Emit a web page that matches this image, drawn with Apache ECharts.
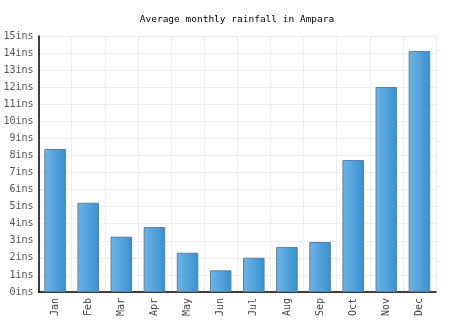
<!DOCTYPE html>
<html><head><meta charset="utf-8">
<script src="https://cdn.jsdelivr.net/npm/echarts@6/dist/echarts.min.js"></script>
<style>html,body{margin:0;padding:0;background:#fff}#c{width:474px;height:331px}</style>
</head><body><div id="c"></div>
<script>
const categories = ["Jan","Feb","Mar","Apr","May","Jun","Jul","Aug","Sep","Oct","Nov","Dec"];
const rainfall = [8.38, 5.23, 3.24, 3.81, 2.30, 1.27, 2.01, 2.64, 2.93, 7.73, 12.01, 14.12];
const titleText = "Average monthly rainfall in Ampara";
const unit = "ins";

const chart = echarts.init(document.getElementById('c'));
chart.setOption({
  animation: false,
  backgroundColor: '#fff',
  title: {
    text: titleText, left: 'center', top: 10,
    textStyle: { fontFamily: 'DejaVu Sans Mono', fontSize: 9.5, fontWeight: 'normal', color: '#000' }
  },
  grid: { left: 38.5, right: 38, top: 36, bottom: 39 },
  xAxis: {
    type: 'category', data: categories, boundaryGap: true,
    axisLine: { lineStyle: { color: '#000', width: 1.5 } },
    axisTick: { show: false },
    splitLine: { show: true, interval: 0, lineStyle: { color: '#eee' } },
    axisLabel: { rotate: 90, interval: 0, margin: 6, fontFamily: 'DejaVu Sans Mono', fontSize: 10, color: '#444' }
  },
  yAxis: {
    type: 'value', min: 0, max: 15, interval: 1,
    axisLine: { show: true, lineStyle: { color: '#000', width: 1.5 } },
    axisTick: { show: false },
    splitLine: { lineStyle: { color: '#eee' } },
    axisLabel: { margin: 5, fontFamily: 'DejaVu Sans Mono', fontSize: 10, color: '#555', formatter: v => v + unit }
  },
  series: [{
    type: 'bar', data: rainfall, barWidth: '65%',
    itemStyle: {
      borderColor: '#5b7f9e', borderWidth: 1,
      color: new echarts.graphic.LinearGradient(0, 0, 1, 0, [
        { offset: 0, color: '#6db5ea' },
        { offset: 1, color: '#3a90cc' }
      ])
    }
  }]
});
</script></body></html>
